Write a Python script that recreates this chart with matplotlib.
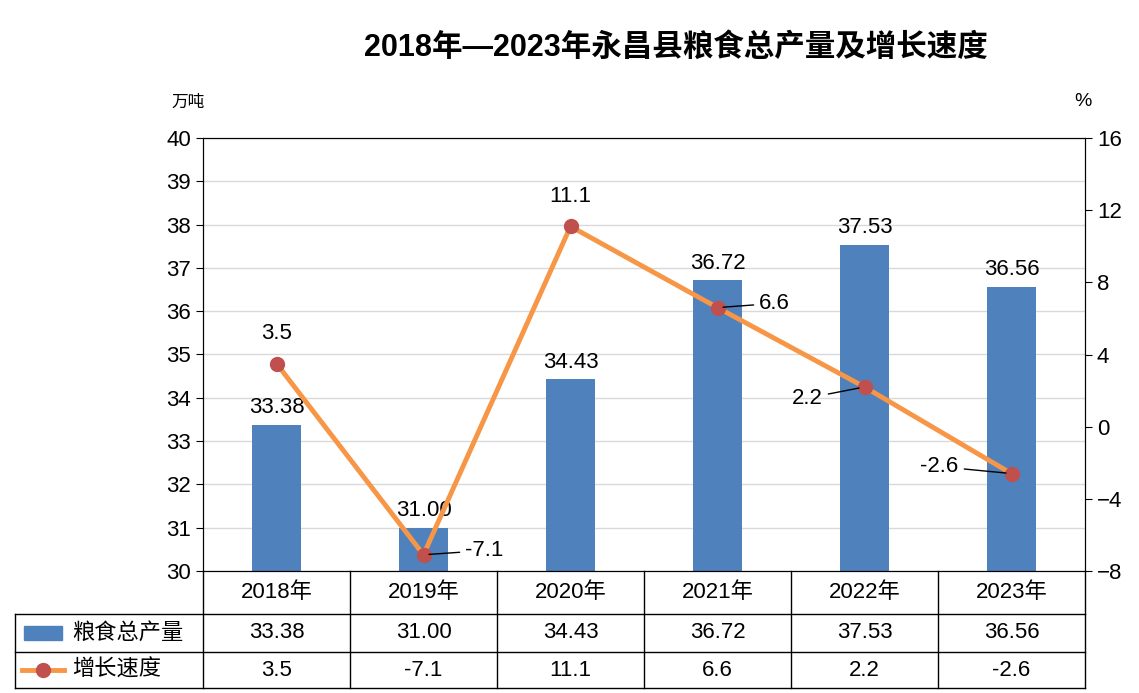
import matplotlib.pyplot as plt
from matplotlib.lines import Line2D
from matplotlib.patches import Rectangle

plt.rcParams['font.family'] = ['Liberation Sans', 'Noto Sans CJK SC', 'DejaVu Sans']

years = ['2018年', '2019年', '2020年', '2021年', '2022年', '2023年']
output = [33.38, 31.00, 34.43, 36.72, 37.53, 36.56]
growth = [3.5, -7.1, 11.1, 6.6, 2.2, -2.6]
out_labels = ['33.38', '31.00', '34.43', '36.72', '37.53', '36.56']

W, H = 1139, 693
fig = plt.figure(figsize=(W / 100, H / 100), dpi=100)
L, R, T, B = 203, 1085, 138, 571
ax = fig.add_axes([L / W, 1 - B / H, (R - L) / W, (B - T) / H])
ax2 = ax.twinx()

bar_c = '#4f81bd'
line_c = '#f79646'
mark_c = '#c0504d'
x = list(range(len(years)))

ax.bar(x, output, width=0.34, color=bar_c, zorder=2)
ax.set_ylim(30, 40)
ax.set_xlim(-0.5, 5.5)
ax.set_yticks(range(30, 41))
ax.grid(axis='y', color='#d9d9d9', lw=1, zorder=0)
ax.set_xticks([])
ax.tick_params(axis='y', labelsize=16, direction='out', length=5)
for i, v in enumerate(output):
    ax.text(i, v + 0.15, out_labels[i], ha='center', va='bottom', fontsize=16)

ax2.plot(x, growth, color=line_c, lw=3.5, marker='o', ms=10,
         mfc=mark_c, mec=mark_c, zorder=3)
ax2.set_ylim(-8, 16)
ax2.set_yticks(range(-8, 17, 4))
ax2.tick_params(axis='y', labelsize=16, direction='out', length=5)

# point labels: (text offset in points, leader line?)
offs = {0: (0, 14, False), 1: (30, 3, True), 2: (0, 14, False),
        3: (30, 3, True), 4: (-30, -8, True), 5: (-38, 5, True)}
for i, g in enumerate(growth):
    dx, dy, lead = offs[i]
    ha = 'center' if dx == 0 else ('left' if dx > 0 else 'right')
    ax2.annotate(f'{g}', (i, g), xytext=(dx, dy), textcoords='offset points',
                 ha=ha, va='bottom' if not lead else 'center', fontsize=16,
                 arrowprops=dict(arrowstyle='-', color='black', lw=1,
                                 shrinkA=2, shrinkB=4) if lead else None)

for a in (ax, ax2):
    for s in a.spines.values():
        s.set_color('black')

fig.text(676 / W, 1 - 48 / H, '2018年—2023年永昌县粮食总产量及增长速度',
         ha='center', va='center', fontsize=22, fontweight='bold')
fig.text(188 / W, 1 - 102 / H, '万吨', ha='center', va='center', fontsize=12)
fig.text(1083 / W, 1 - 102 / H, '%', ha='center', va='center', fontsize=14)

# data table
rows = [571, 614, 652, 688]
col_w = (R - L) / 6
def fx(px): return px / W
def fy(py): return 1 - py / H
for y in rows[1:]:
    fig.add_artist(Line2D([fx(15), fx(R)], [fy(y), fy(y)], color='black', lw=1))
fig.add_artist(Line2D([fx(15), fx(15)], [fy(614), fy(688)], color='black', lw=1))
for k in range(7):
    xp = L + k * col_w
    fig.add_artist(Line2D([fx(xp), fx(xp)], [fy(571), fy(688)], color='black', lw=1))
for k, yr in enumerate(years):
    xc = L + (k + 0.5) * col_w
    fig.text(fx(xc), fy(593), yr, ha='center', va='center', fontsize=16)
    fig.text(fx(xc), fy(633), out_labels[k], ha='center', va='center', fontsize=16)
    fig.text(fx(xc), fy(670), f'{growth[k]}', ha='center', va='center', fontsize=16)
fig.add_artist(Rectangle((fx(24), fy(640)), fx(62) - fx(24), fy(626) - fy(640), color=bar_c))
fig.text(fx(72), fy(633), '粮食总产量', ha='left', va='center', fontsize=16)
fig.add_artist(Line2D([fx(22), fx(64)], [fy(670), fy(670)], color=line_c, lw=3.5))
fig.add_artist(Line2D([fx(43)], [fy(670)], marker='o', ms=10, mfc=mark_c, mec=mark_c))
fig.text(fx(72), fy(670), '增长速度', ha='left', va='center', fontsize=16)

fig.savefig('out.png', dpi=100)
